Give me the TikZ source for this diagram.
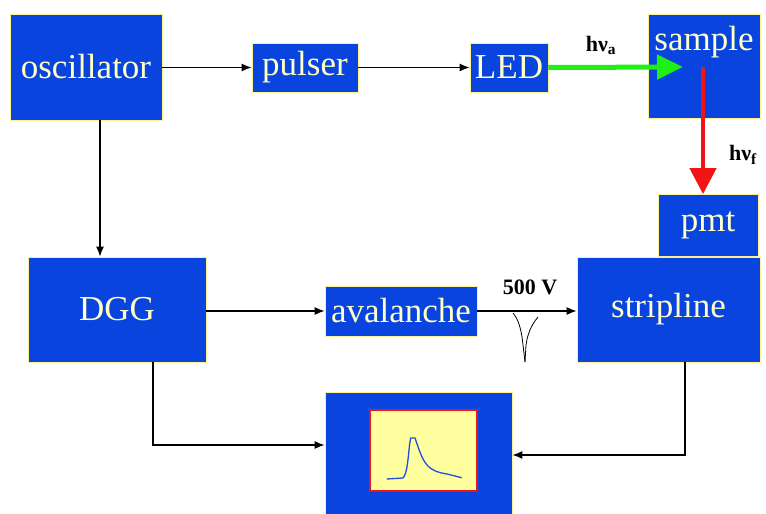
\documentclass[tikz,border=0pt]{standalone}
\usepackage{fontspec}
\setmainfont{Liberation Serif}
\usetikzlibrary{arrows.meta,calc}
\definecolor{boxblue}{RGB}{10,68,222}
\definecolor{boxtext}{RGB}{255,255,200}
\definecolor{boxedge}{RGB}{250,240,150}
\definecolor{dispfill}{RGB}{255,255,160}
\definecolor{glight}{RGB}{30,240,20}
\definecolor{rlight}{RGB}{240,20,20}
\definecolor{trace}{RGB}{30,80,220}
\tikzset{
  blk/.style={draw=boxedge, line width=0.8pt, fill=boxblue, text=boxtext, font=\fontsize{35}{38}\selectfont, inner sep=0pt},
  conn/.style={line width=1.2pt, -{Latex[length=10pt,width=8pt]}},
  lbl/.style={font=\bfseries\fontsize{22}{24}\selectfont, inner sep=0pt}
}
\begin{document}
\begin{tikzpicture}[x=1pt,y=-1pt]
\useasboundingbox (0,0) rectangle (766,514);
% boxes
\node[blk, minimum width=152pt, minimum height=106pt] (osc) at (86,67) {oscillator};
\node[blk, minimum width=106pt, minimum height=49pt] (pulser) at (305,67.5) {pulser};
\node[blk, minimum width=78pt, minimum height=49pt] (led) at (509,67.5) {LED};
\node[blk, minimum width=112pt, minimum height=104pt] (sample) at (704,66) {};
\node[text=boxtext, font=\fontsize{35}{38}\selectfont, inner sep=0pt] (sampletxt) at (704,42) {sample};
\node[blk, minimum width=100pt, minimum height=62pt] (pmt) at (708,225.5) {pmt};
\node[blk, minimum width=183pt, minimum height=105pt] (strip) at (668.5,309.5) {stripline};
\node[blk, minimum width=178pt, minimum height=105pt] (dgg) at (117,309.5) {DGG};
\node[blk, minimum width=152pt, minimum height=50pt] (aval) at (401,311) {avalanche};
\node[blk, minimum width=187pt, minimum height=124pt] (scope) at (418.5,454) {};
\node[draw=rlight, line width=1.5pt, fill=dispfill, minimum width=107pt, minimum height=81pt, inner sep=0pt] (disp) at (423.5,450.5) {};
% trace on display
\draw[trace, line width=1.3pt, line join=round]
  (386.7,479) -- (403,478) .. controls (407,474) and (408,460) .. (409.5,445)
  -- (410.7,438) -- (415,438) .. controls (418,446) and (421,458) .. (427,465)
  .. controls (432,471) and (440,473) .. (447,474) -- (461.7,477.7);
% connectors
\draw[conn] (osc.east |- pulser.west) -- (pulser.west);
\draw[conn] (pulser.east) -- (led.west);
\coordinate (gtip) at (683,67);
\draw[glight, line width=5pt, -{Triangle[length=26pt,width=24pt]}] (led.east) -- (gtip);
\node[lbl] (hna) at (601,45) {hν\textsubscript{a}};
\coordinate (rstart) at (703,67);
\draw[rlight, line width=4.5pt, -{Triangle[length=26pt,width=26pt]}] (rstart) -- (rstart |- pmt.north);
\node[lbl] (hnf) at (743,155) {hν\textsubscript{f}};
\draw[conn] ([xshift=14pt]osc.south) -- ([xshift=14pt]osc.south |- dgg.north);
\draw[conn] (dgg.east |- aval.west) -- (aval.west);
\draw[conn] (aval.east) -- (aval.east -| strip.west);
\node[lbl] (hv) at (530,287) {500 V};
\coordinate (dggout) at (153,362);
\draw[conn] (dggout) |- (scope.west |- 0,445);
\coordinate (stripout) at (685,362);
\draw[conn] (stripout) |- (scope.east |- 0,455);
% pulse sketch
\draw[black, line width=0.8pt] (513,313) .. controls (517,318) and (521,325) .. (523,345) -- (525,362);
\draw[black, line width=0.8pt] (538,317) .. controls (534,322) and (528,330) .. (526,345) -- (525,362);
\end{tikzpicture}
\end{document}
